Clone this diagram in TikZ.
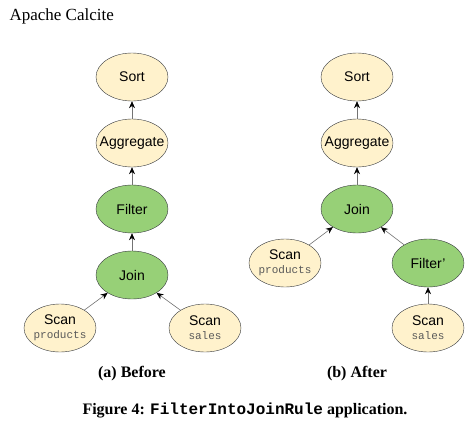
\documentclass[tikz,border=0pt]{standalone}
\usepackage{fontspec}
\setmainfont{Liberation Serif}
\setsansfont{Liberation Sans}
\setmonofont{Liberation Mono}
\usepackage{tikz}
\usetikzlibrary{arrows.meta,shapes}
\definecolor{cream}{HTML}{FFF2CC}
\definecolor{leaf}{HTML}{97D077}
\definecolor{rim}{HTML}{36393D}
\tikzstyle{op}=[ellipse,draw=rim,fill=cream,minimum width=72pt,minimum height=48pt,inner xsep=-12pt,inner ysep=0pt,align=center,font=\sffamily\fontsize{14}{15}\selectfont]
\tikzstyle{hot}=[op,fill=leaf]
\tikzstyle{arrow}=[draw,black!55,-{Stealth[black,length=7pt,width=6pt]},semithick]
\newcommand{\tbl}[1]{\\[-1pt]{\ttfamily\fontsize{11}{11}\selectfont\color{black!65}#1}}

\begin{document}
\begin{tikzpicture}[x=1pt,y=-1pt]
    \useasboundingbox (0,0) rectangle (470,431);
    \foreach \pos/\name/\txt in {{(132,77)/sortA/Sort}, {(132,143)/aggA/Aggregate}, {(60,328)/prodA/Scan\tbl{products}}, {(205,328)/salesA/Scan\tbl{sales}}, {(357,77)/sortB/Sort}, {(357,143)/aggB/Aggregate}, {(285,263)/prodB/Scan\tbl{products}}, {(428,328)/salesB/Scan\tbl{sales}}}
        \node[op] (\name) at \pos {\txt};
    \foreach \pos/\name/\txt in {{(132,209)/filterA/Filter}, {(132,275)/joinA/Join}, {(357,209)/joinB/Join}, {(428,263)/filterB/Filter’}}
        \node[hot] (\name) at \pos {\txt};
    \foreach \source/\dest in {aggA/sortA, filterA/aggA, joinA/filterA, prodA/joinA, salesA/joinA, aggB/sortB, joinB/aggB, prodB/joinB, filterB/joinB, salesB/filterB}
        \path[arrow] (\source) -- (\dest);
    % captions
    \node[anchor=base west,font=\fontsize{17}{17}\selectfont] (title) at (6,20) {Apache Calcite};
    \node[font=\bfseries\fontsize{16}{16}\selectfont] (capA) at (132,374) {(a) Before};
    \node[font=\bfseries\fontsize{16}{16}\selectfont] (capB) at (357,374) {(b) After};
    \node[font=\bfseries\fontsize{16}{16}\selectfont] (fig) at (245,410) {Figure 4: \texttt{FilterIntoJoinRule} application.};
\end{tikzpicture}
\end{document}
